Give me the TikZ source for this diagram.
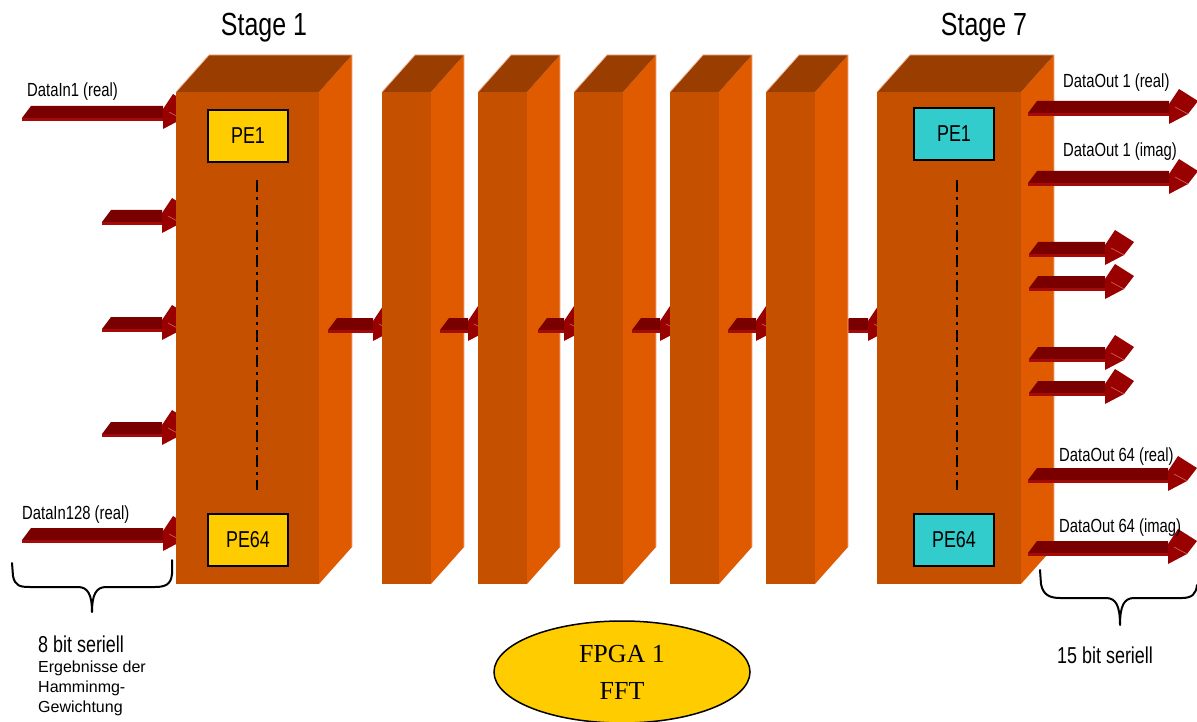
\documentclass[tikz,border=0pt]{standalone}
\usepackage{fontspec}
\setmainfont{Liberation Sans}
\newfontfamily\narrowfont[FakeStretch=0.78]{Liberation Sans}
\newfontfamily\seriffont{Liberation Serif}
\usetikzlibrary{shapes.geometric}

\definecolor{frontc}{RGB}{196,80,0}
\definecolor{sidec}{RGB}{224,90,0}
\definecolor{topc}{RGB}{153,61,0}
\definecolor{edgec}{RGB}{240,180,150}
\definecolor{shaftc}{RGB}{122,0,0}
\definecolor{stripc}{RGB}{165,10,10}
\definecolor{headc}{RGB}{153,0,0}
\definecolor{peyellow}{RGB}{255,204,0}
\definecolor{pecyan}{RGB}{51,204,204}
\definecolor{fpgac}{RGB}{255,204,0}

\tikzset{
  pebox/.style={draw=black, line width=2, minimum width=80, minimum height=52, inner sep=0,
                font=\narrowfont\fontsize{23}{25}\selectfont},
  lbl/.style={anchor=west, inner sep=0, font=\narrowfont\fontsize{19}{22}\selectfont},
  stagelbl/.style={inner sep=0, font=\narrowfont\fontsize{32}{36}\selectfont},
  bitlbl/.style={anchor=base west, inner sep=0, font=\narrowfont\fontsize{23}{26}\selectfont},
  notelbl/.style={anchor=base west, inner sep=0, font=\fontsize{16}{20}\selectfont},
  pechain/.style={line width=2.5, dash pattern=on 12 off 5 on 3 off 5},
  bracec/.style={line width=2, line join=round, line cap=round},
}

% a stage block: front face at x=#1 with width #2, plus top and side faces
\newcommand\prism[2]{%
  \fill[frontc] (#1,92) rectangle ++(#2,492);
  \fill[sidec] (#1+#2,92) -- ++(33,-37) -- ++(0,492) -- ++(-33,37) -- cycle;
  \fill[topc] (#1,92) -- ++(33,-37) -- ++(#2,0) -- ++(-33,37) -- cycle;
  \draw[edgec, line width=0.8] (#1,92) -- ++(33,-37) -- ++(#2,0) -- ++(0,492);
}

% a flat 3D arrow: tail x #1, bottom y #2, head base x #3
\newcommand\flatarrow[3]{%
  \fill[shaftc] (#1,#2-3) -- (#1+9,#2-15) -- (#3,#2-15) -- (#3,#2-3) -- cycle;
  \fill[stripc] (#1,#2-3) -- (#3,#2-3) -- (#3,#2) -- (#1,#2) -- cycle;
  \fill[headc] (#3,#2-12) -- (#3+10,#2-27) -- (#3+29,#2-15) -- (#3+19,#2-2) -- (#3,#2+8) -- cycle;
  \draw[edgec!60!headc, line width=0.6] (#3+6,#2-9) -- (#3+19,#2-2);
}

\begin{document}
\begin{tikzpicture}[x=1pt, y=-1pt]
\useasboundingbox (0,0) rectangle (1197,722);
\clip (0,0) rectangle (1197,722);

% inputs of stage 1
\flatarrow{22}{121}{163}
\flatarrow{102}{225}{162}
\flatarrow{102}{332}{162}
\flatarrow{102}{437}{162}
\flatarrow{22}{543}{163}

% stage 1
\prism{176}{143}
\node[pebox, fill=peyellow] (s1pe1) at (248,136) {PE1};
\node[pebox, fill=peyellow] (s1pe64) at (248,540) {PE64};
\coordinate (s1top) at (257,180);
\coordinate (s1bot) at (257,490);
\draw[pechain] (s1top) -- (s1bot);
\flatarrow{328}{333}{373}

% intermediate stages
\prism{382}{49}
\flatarrow{440}{333}{468}
\prism{478}{49}
\flatarrow{538}{333}{564}
\prism{574}{49}
\flatarrow{632}{333}{660}
\prism{670}{49}
\flatarrow{728}{333}{756}
\flatarrow{840}{333}{868}
\prism{766}{49}

% stage 7
\prism{877}{144}
\node[pebox, fill=pecyan] (s7pe1) at (954,134) {PE1};
\node[pebox, fill=pecyan] (s7pe64) at (954,540) {PE64};
\coordinate (s7top) at (957,180);
\coordinate (s7bot) at (957,490);
\draw[pechain] (s7top) -- (s7bot);

% outputs of stage 7
\flatarrow{1028}{116}{1169}
\flatarrow{1028}{186}{1169}
\flatarrow{1029}{257}{1105}
\flatarrow{1029}{291}{1105}
\flatarrow{1029}{362}{1105}
\flatarrow{1029}{396}{1105}
\flatarrow{1028}{483}{1168}
\flatarrow{1028}{556}{1168}

% titles
\node[stagelbl] (st1) at (264,28) {Stage 1};
\node[stagelbl] (st7) at (984,28) {Stage 7};

% signal labels
\node[lbl] (in1) at (27,92) {DataIn1 (real)};
\node[lbl] (in128) at (22,515) {DataIn128 (real)};
\node[lbl] (out1r) at (1063,83) {DataOut 1 (real)};
\node[lbl] (out1i) at (1063,152) {DataOut 1 (imag)};
\node[lbl] (out64r) at (1059,457) {DataOut 64 (real)};
\node[lbl] (out64i) at (1059,528) {DataOut 64 (imag)};

% braces
\draw[bracec] (12,563) -- (13,576) .. controls (15,586) and (20,587) .. (30,587)
  -- (78,587) .. controls (88,587) and (92,595) .. (92,612)
  .. controls (92,595) and (96,587) .. (106,587) -- (155,587)
  .. controls (166,587) and (171,584) .. (172,574) -- (172,560);
\draw[bracec] (1040,570) -- (1041,584) .. controls (1043,595) and (1050,598) .. (1060,598)
  -- (1106,598) .. controls (1116,598) and (1120,606) .. (1120,625)
  .. controls (1120,606) and (1124,598) .. (1134,598) -- (1182,598)
  .. controls (1192,598) and (1196,594) .. (1197,585);

\node[bitlbl] (bits8) at (38,652) {8 bit seriell};
\node[notelbl] (note1) at (38,672) {Ergebnisse der};
\node[notelbl] (note2) at (38,692) {Hamminmg-};
\node[notelbl] (note3) at (38,712) {Gewichtung};
\node[bitlbl] (bits15) at (1057,663) {15 bit seriell};

% device label
\node[ellipse, draw=black, line width=1.5, fill=fpgac, minimum width=256, minimum height=102,
      inner sep=0, align=center, font=\seriffont\fontsize{26}{37}\selectfont]
  (fpga) at (622,672) {FPGA 1\\FFT};
\end{tikzpicture}
\end{document}
